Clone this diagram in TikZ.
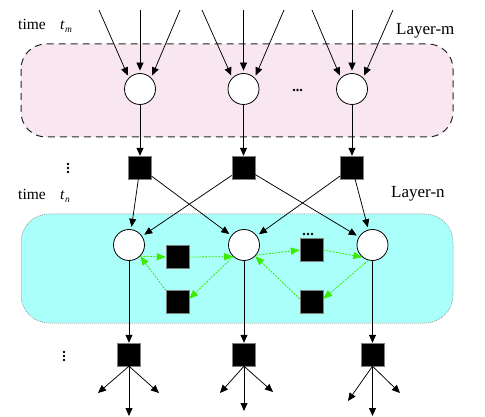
\documentclass[tikz,border=0pt]{standalone}
\usepackage{fontspec}
\setmainfont{Liberation Serif}
\usetikzlibrary{arrows.meta}
\definecolor{pinkfill}{RGB}{248,230,240}
\definecolor{cyanfill}{RGB}{170,255,250}
\definecolor{greenarr}{RGB}{60,235,0}
\tikzset{
  cnode/.style={circle,draw=black,fill=white,line width=0.8pt,minimum size=31pt,inner sep=0pt},
  snode/.style={rectangle,draw=gray,fill=black,line width=0.4pt,minimum size=23pt,inner sep=0pt},
  arr/.style={-{Triangle[length=8pt,width=7pt]},line width=0.75pt,black},
  carr/.style={arr,shorten >=2.5pt},
  garr/.style={-{Triangle[length=9pt,width=7pt]},line width=0.8pt,greenarr,dash pattern=on 2pt off 1.2pt},
  lbl/.style={anchor=base west,inner sep=0pt,font=\fontsize{17}{20}\selectfont},
  tlbl/.style={anchor=base west,inner sep=0pt,font=\fontsize{15.5}{18}\selectfont},
  dot/.style={fill=black,draw=none}
}
\begin{document}
\begin{tikzpicture}[x=1pt,y=-1pt]
\useasboundingbox (0,0) rectangle (485,417);
% layer boxes
\draw[fill=pinkfill,draw=black!85,line width=1pt,dash pattern=on 7pt off 5pt,rounded corners=25pt] (21,44) rectangle (453,137);
\draw[fill=cyanfill,draw=gray,line width=0.5pt,dash pattern=on 1pt off 1pt,rounded corners=28pt] (21,214) rectangle (453,323);
% labels
\node[tlbl] (timem) at (18,30) {time};
\node[tlbl] (tm) at (60,30) {\itshape t\kern0.5pt\raisebox{-3pt}{\fontsize{9.5}{10}\selectfont m}};
\node[tlbl] (timen) at (18,200) {time};
\node[tlbl] (tn) at (60,200) {\itshape t\kern0.5pt\raisebox{-3pt}{\fontsize{9.5}{10}\selectfont n}};
\node[lbl] (laym) at (396,35) {Layer-m};
\node[lbl] (layn) at (391,198) {Layer-n};
% layer m circles
\node[cnode] (m1) at (140,89) {};
\node[cnode] (m2) at (243.5,89) {};
\node[cnode] (m3) at (352,89) {};
% incoming
\coordinate (t11) at (99,10);  \coordinate (t12) at (140,10);  \coordinate (t13) at (180,10);
\coordinate (t21) at (202,10); \coordinate (t22) at (243.5,10);  \coordinate (t23) at (284,10);
\coordinate (t31) at (312,10); \coordinate (t32) at (352,10);  \coordinate (t33) at (393,10);
\foreach \i in {1,2,3}{
  \draw[carr] (t\i1) -- (m\i.135);
  \draw[carr] (t\i2) -- (m\i.north);
  \draw[carr] (t\i3) -- (m\i.45);
}
% squares below layer m
\node[snode] (s1) at (140,167.5) {};
\node[snode] (s2) at (243.5,167.5) {};
\node[snode] (s3) at (352,167.5) {};
\foreach \i in {1,2,3}{\draw[arr] (m\i) -- (s\i);}
% layer n circles
\node[cnode] (n1) at (129,245) {};
\node[cnode] (n2) at (244,245) {};
\node[cnode] (n3) at (372.5,245) {};
\draw[carr] (s1) -- (n1);
\draw[carr] (s1) -- (n2);
\draw[carr] (s2) -- (n1);
\draw[carr] (s2) -- (n3);
\draw[carr] (s3) -- (n2);
\draw[carr] (s3) -- (n3);
% inner squares
\node[snode] (ga) at (177.5,257) {};
\node[snode] (gb) at (177.5,302) {};
\node[snode] (gc) at (311.5,250) {};
\node[snode] (gd) at (311.5,302) {};
% green arrows
\draw[garr] (n1.-45) -- (ga.west);
\draw[garr] (ga.east) -- (n2.-133);
\draw[garr] (n2.-133) -- (gb.15);
\draw[garr] (gb.north west) -- (n1.-45);
\draw[garr] (n2.-40) -- (gc.west);
\draw[garr] (gc.east) -- (n3.-130);
\draw[garr] (n3.-105) -- (gd.15);
\draw[garr] (gd.165) -- (n2.-45);
% bottom squares
\node[snode] (b1) at (129,354.5) {};
\node[snode] (b2) at (244,354.5) {};
\node[snode] (b3) at (372.5,354.5) {};
\draw[arr] (n1) -- (b1);
\draw[arr] (n2) -- (b2);
\draw[arr] (n3) -- (b3);
% outgoing
\coordinate (o11) at (98,393);  \coordinate (o12) at (129,416);   \coordinate (o13) at (159,393);
\coordinate (o21) at (220,393); \coordinate (o22) at (244,411);   \coordinate (o23) at (273,392);
\coordinate (o31) at (348,401); \coordinate (o32) at (372.5,416); \coordinate (o33) at (400,393);
\foreach \i in {1,2,3}{\foreach \j in {1,2,3}{\draw[arr] (b\i.south) -- (o\i\j);}}
% ellipsis dots
\foreach \x in {294,297.5,301}{\fill[dot] (\x,90) circle (1.3);}
\foreach \x in {304,308,312}{\fill[dot] (\x,234) circle (1.3);}
\foreach \y in {164,168,172}{\fill[dot] (68,\y) circle (1.3);}
\foreach \y in {352,356,360}{\fill[dot] (64,\y) circle (1.3);}
\end{tikzpicture}
\end{document}
